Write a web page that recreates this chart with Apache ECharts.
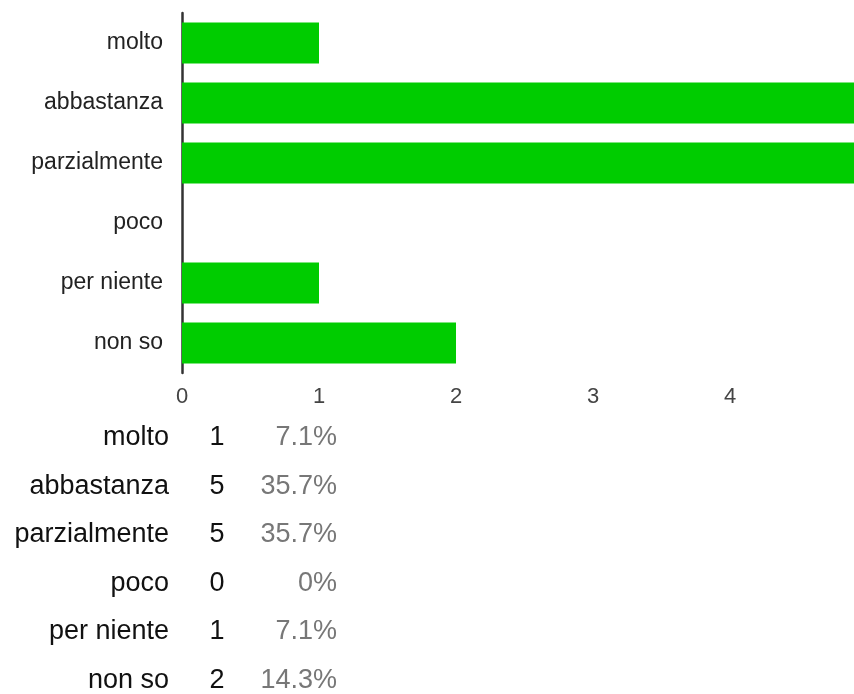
<!DOCTYPE html>
<html>
<head>
<meta charset="utf-8">
<script src="https://cdn.jsdelivr.net/npm/echarts@6/dist/echarts.min.js"></script>
<style>
html,body{margin:0;padding:0;background:#fff;}
#chart{width:854px;height:694px;}
</style>
</head>
<body>
<div id="chart"></div>
<script>
var categories = ['molto', 'abbastanza', 'parzialmente', 'poco', 'per niente', 'non so'];
var counts = [1, 5, 5, 0, 1, 2];
var percentLabels = ['7.1%', '35.7%', '35.7%', '0%', '7.1%', '14.3%'];
var xTicks = [0, 1, 2, 3, 4];

var chart = echarts.init(document.getElementById('chart'));
var FONT = '"Liberation Sans", Arial, sans-serif';

var graphics = [];
var rowTop = 438, rowStep = 48.5;
categories.forEach(function (c, i) {
  var y = rowTop + i * rowStep;
  graphics.push({type: 'text', x: 169, y: y, style: {text: c, align: 'right', verticalAlign: 'middle', font: '27px ' + FONT, fill: '#111'}});
  graphics.push({type: 'text', x: 217, y: y, style: {text: String(counts[i]), align: 'center', verticalAlign: 'middle', font: '27px ' + FONT, fill: '#111'}});
  graphics.push({type: 'text', x: 337, y: y, style: {text: percentLabels[i], align: 'right', verticalAlign: 'middle', font: '27px ' + FONT, fill: '#777'}});
});

chart.setOption({
  animation: false,
  backgroundColor: '#fff',
  grid: {left: 182, top: 13, right: 0, height: 360, containLabel: false},
  xAxis: {
    type: 'value', min: 0, max: 4.905, interval: 1,
    axisLine: {show: false}, axisTick: {show: false}, splitLine: {show: false},
    axisLabel: {
      color: '#444', fontSize: 22, fontFamily: FONT, margin: 13, showMaxLabel: false,
      formatter: function (v) { return xTicks.indexOf(v) >= 0 ? String(v) : ''; }
    }
  },
  yAxis: {
    type: 'category', inverse: true, data: categories,
    axisLine: {show: true, lineStyle: {color: '#333', width: 2.5}},
    axisTick: {show: false},
    axisLabel: {color: '#222', fontSize: 23, fontFamily: FONT, margin: 19}
  },
  series: [{
    type: 'bar', data: counts, barWidth: 41,
    itemStyle: {color: '#00cc00'}
  }],
  graphic: graphics
});
</script>
</body>
</html>
